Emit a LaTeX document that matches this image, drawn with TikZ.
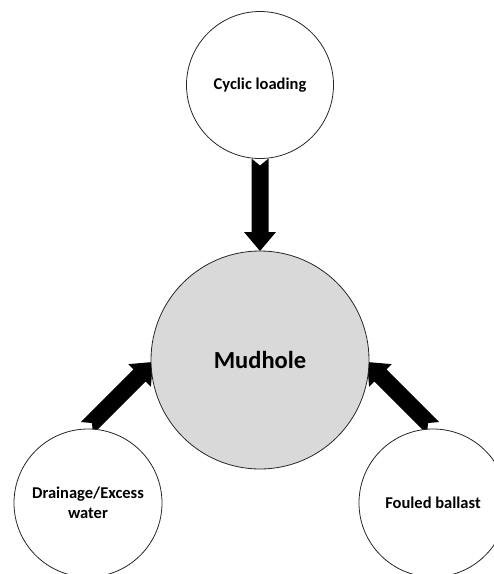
\documentclass[tikz,border=0pt]{standalone}
\usepackage{fontspec}
\setmainfont{Carlito}
\usetikzlibrary{calc}

\definecolor{mudgray}{HTML}{D9D9D9}
\definecolor{rimcol}{HTML}{262626}

\tikzset{
  bubble/.style={circle, draw=rimcol, line width=0.8pt, fill=white,
    inner sep=0pt, align=center, font=\bfseries\fontsize{16.5}{20}\selectfont},
  core/.style={bubble, fill=mudgray, font=\bfseries\fontsize{24.5}{28}\selectfont},
  arrowfill/.style={fill=black},
}

% Notched block arrow from tail #1 to tip #2
\newcommand\blockarrow[2]{%
  \coordinate (hb) at ($(#2)!19pt!(#1)$);
  \fill[arrowfill]
    ($(#1)!8.5pt!90:(#2)$) -- ($(#1)!7pt!(#2)$) -- ($(#1)!8.5pt!-90:(#2)$)
    -- ($(hb)!8.5pt!-90:(#2)$) -- ($(hb)!16pt!-90:(#2)$) -- (#2)
    -- ($(hb)!16pt!90:(#2)$) -- ($(hb)!8.5pt!90:(#2)$) -- cycle;}

\begin{document}
\begin{tikzpicture}[x=1pt,y=-1pt]
  \useasboundingbox (0,0) rectangle (494,574);
  \clip (0,0) rectangle (494,574);

  % arrow end points
  \coordinate (cycTail) at (260,158.5);
  \coordinate (cycTip)  at (260,251);
  \coordinate (drnTail) at (87,428);
  \coordinate (drnTip)  at (153,362);
  \coordinate (fbTail)  at (433,428);
  \coordinate (fbTip)   at (367,362);

  % arrows first, circles drawn over them
  \blockarrow{cycTail}{cycTip}
  \blockarrow{drnTail}{drnTip}
  \blockarrow{fbTail}{fbTip}

  \node[core,   minimum size=218pt] (mud) at (260,360) {Mudhole};
  \node[bubble, minimum size=147pt] (cyc) at (260,85)  {Cyclic loading};
  \node[bubble, minimum size=148pt] (drn) at (88,503)  {Drainage/Excess\\water};
  \node[bubble, minimum size=148pt] (fb)  at (433,503) {Fouled ballast};
\end{tikzpicture}
\end{document}
